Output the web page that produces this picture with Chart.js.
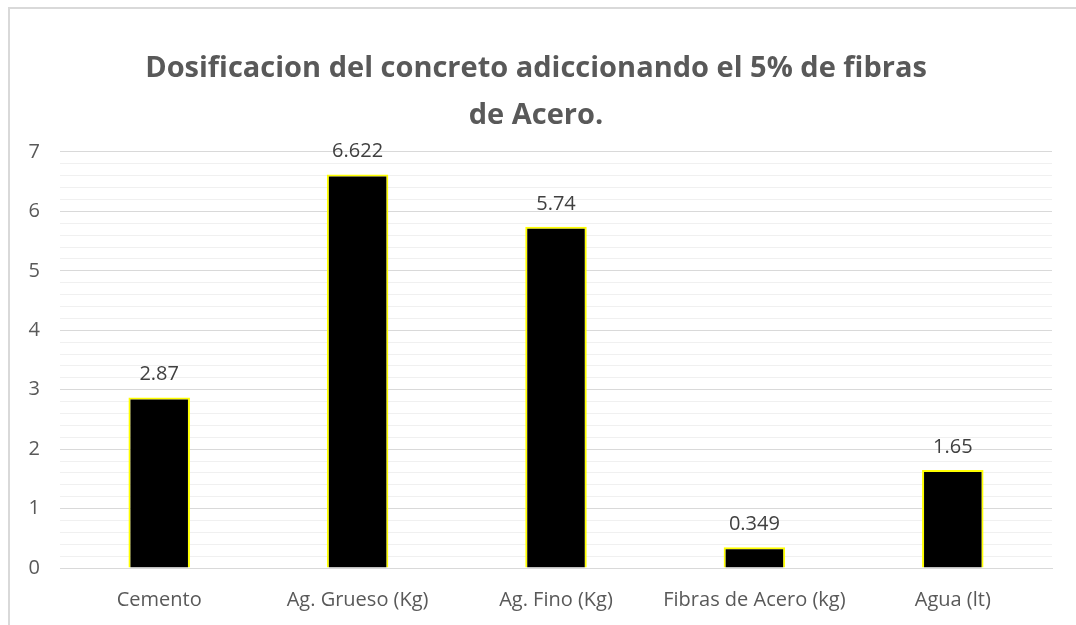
<!DOCTYPE html>
<html>
<head>
<meta charset="utf-8">
<script src="https://cdn.jsdelivr.net/npm/chart.js@4"></script>
<style>
    html, body { margin: 0; padding: 0; background: #fff; }
    #wrap { position: relative; width: 1076px; height: 625px; overflow: hidden; }
    #frame { position: absolute; left: 8px; top: 7px; width: 1080px; height: 640px;
             border-left: 2px solid #d9d9d9; border-top: 2px solid #d9d9d9; box-sizing: border-box; }
    canvas { position: absolute; left: 0; top: 0; }
</style>
</head>
<body>
<div id="wrap">
    <div id="frame"></div>
    <canvas id="dosis" width="1076" height="625"></canvas>
</div>
<script>
// datos de la dosificacion
const categorias = ['Cemento', 'Ag. Grueso (Kg)', 'Ag. Fino (Kg)', 'Fibras de Acero (kg)', 'Agua (lt)'];
const valores = [2.87, 6.622, 5.74, 0.349, 1.65];
const etiquetas = ['2.87', '6.622', '5.74', '0.349', '1.65'];
const ejeY = [0, 1, 2, 3, 4, 5, 6, 7];

const FUENTE = "'Open Sans', sans-serif";
const GRIS = '#595959';

function esEntero(v) {
    return Math.abs(v - Math.round(v)) < 1e-6;
}

// etiqueta de valor encima de cada barra
const valorBarras = {
    id: 'valorBarras',
    afterDatasetsDraw(chart) {
        const ctx = chart.ctx;
        const meta = chart.getDatasetMeta(0);
        ctx.save();
        ctx.font = '20px ' + FUENTE;
        ctx.fillStyle = '#404040';
        ctx.textAlign = 'center';
        ctx.textBaseline = 'middle';
        meta.data.forEach((bar, i) => {
            ctx.fillText(etiquetas[i], bar.x, bar.y - 23);
        });
        ctx.restore();
    }
};

new Chart(document.getElementById('dosis').getContext('2d'), {
    type: 'bar',
    data: {
        labels: categorias,
        datasets: [{
            data: valores,
            backgroundColor: '#000000',
            borderColor: '#ffff00',
            borderWidth: 2,
            categoryPercentage: 0.31,
            barPercentage: 1
        }]
    },
    options: {
        responsive: false,
        animation: false,
        layout: { padding: { left: 20, right: 24, top: 0, bottom: 0 } },
        plugins: {
            legend: { display: false },
            tooltip: { enabled: false },
            title: {
                display: true,
                text: ['Dosificacion del concreto adiccionando el 5% de fibras', 'de Acero.'],
                color: GRIS,
                font: { family: FUENTE, size: 29, weight: 'bold', lineHeight: 1.62 },
                padding: { top: 45, bottom: 13 }
            }
        },
        scales: {
            x: {
                grid: { display: false },
                border: { display: true, color: '#d9d9d9', width: 1 },
                ticks: { color: GRIS, font: { family: FUENTE, size: 20 }, padding: 12 },
                afterFit(scale) { scale.height = 57; }
            },
            y: {
                min: ejeY[0],
                max: ejeY[ejeY.length - 1],
                border: { display: false },
                grid: {
                    drawTicks: false,
                    color: ctx => esEntero(ctx.tick.value) ? '#d9d9d9' : '#f0f0f0',
                    lineWidth: 1
                },
                ticks: {
                    stepSize: 0.2,
                    autoSkip: false,
                    color: GRIS,
                    font: { family: FUENTE, size: 20 },
                    padding: 20,
                    callback: v => esEntero(v) && ejeY.includes(Math.round(v)) ? String(Math.round(v)) : ''
                },
                afterFit(scale) { scale.width = 40; }
            }
        }
    },
    plugins: [valorBarras]
});
</script>
</body>
</html>
